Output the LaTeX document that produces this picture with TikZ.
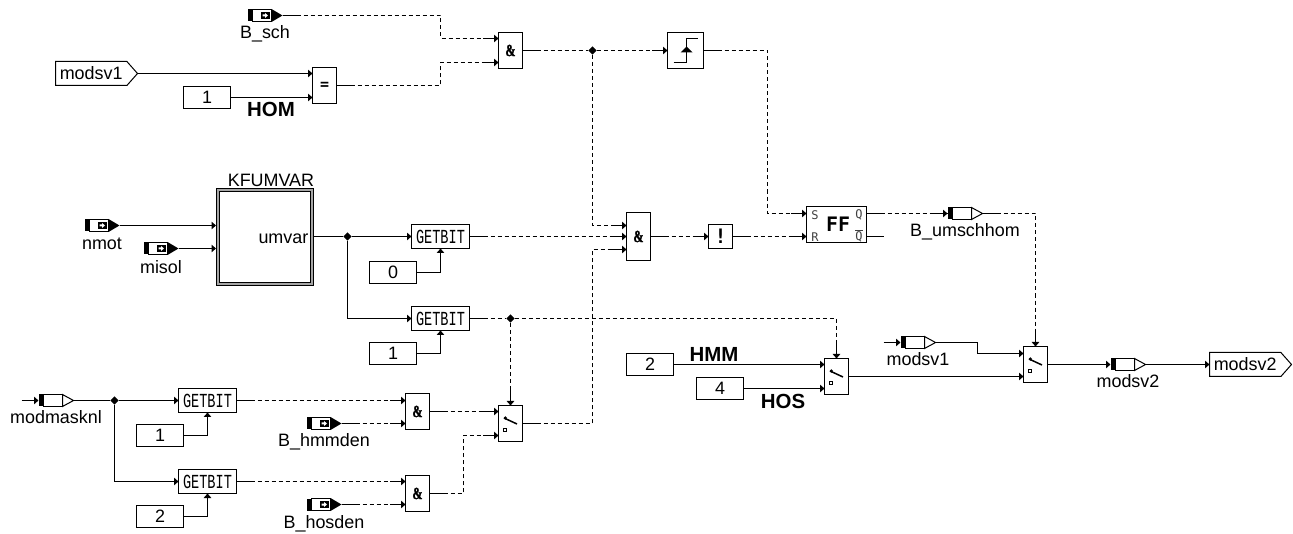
\documentclass[tikz,border=0pt]{standalone}
\usepackage{fontspec}
\setmainfont{Liberation Sans}
\newfontfamily\getbitfont[FakeStretch=0.68]{Liberation Mono}
\newfontfamily\pinfont{DejaVu Sans Mono}
\newfontfamily\ampfont[FakeStretch=0.72,FakeBold=1.5]{Liberation Serif}
\usetikzlibrary{arrows.meta,shapes.geometric,shapes.symbols}
\newcommand{\bitstart}[1]{\draw[line width=1bp] (#1) -- ++(15,0);}
\newcommand{\bitend}[1]{\draw[line width=1bp] (#1) -- ++(-16,0);}
\newcommand{\bitdown}[1]{\draw[line width=1bp] (#1) -- ++(0,-16);}
\tikzset{
  head/.tip={Triangle[length=4.5bp,width=7.5bp]},
  wire/.style={line width=1bp,-{head[]}},
  bitjoin/.style={line width=1bp,dash pattern=on 4bp off 3bp},
  bitwire/.style={bitjoin,-{head[]}},
  plain/.style={font=\fontsize{18}{20}\selectfont,inner sep=0pt},
  measlabel/.style={plain,node distance=18pt},
  boldlabel/.style={font=\fontsize{20.5}{22}\selectfont\bfseries,inner sep=0pt},
  block/.style={draw,line width=1bp,fill=white,inner sep=0pt,outer sep=0pt,minimum width=24bp,minimum height=36bp},
  andblock/.style={block,font=\fontsize{17}{18}\selectfont\ampfont\bfseries},
  switchblock/.style={block,path picture={
    \draw[line width=1.5bp] ([shift={(-6.5,-5.5)}]path picture bounding box.center) -- ([shift={(6.5,0.5)}]path picture bounding box.center);
    \fill[black] ([shift={(-5.2,-5.5)}]path picture bounding box.center) circle (1.8bp);
    \draw[line width=.8bp] ([shift={(-7,4.5)}]path picture bounding box.center) rectangle ([shift={(-4,7.5)}]path picture bounding box.center);}},
  edgeblock/.style={block,minimum width=36bp,path picture={
    \draw[line width=1.5bp] ([shift={(-12,12)}]path picture bounding box.center) -- ([shift={(1,12)}]path picture bounding box.center) -- ([shift={(1,-12)}]path picture bounding box.center) -- ([shift={(12,-12)}]path picture bounding box.center);
    \fill[black] ([shift={(-5,2)}]path picture bounding box.center) -- ([shift={(1,-4)}]path picture bounding box.center) -- ([shift={(7,2)}]path picture bounding box.center) -- cycle;}},
  getbit/.style={block,minimum width=58bp,minimum height=24bp,font=\fontsize{20}{22}\selectfont\getbitfont},
  const/.style={draw,line width=1bp,fill=white,plain,outer sep=0pt,minimum width=47bp,minimum height=22bp},
  sigport/.style={signal,signal to=east,draw,line width=1bp,fill=white,plain,outer sep=0pt,minimum height=24bp,minimum width=82bp,signal pointer angle=97,anchor=west},
  junct/.style={diamond,fill=black,inner sep=0pt,minimum size=8.5bp},
  pin/.style={font=\fontsize{12}{13}\selectfont\pinfont,inner sep=0pt,text=black!75},
  inmeas/.pic={
    \fill (0,-6) rectangle (5,6);
    \draw[line width=1bp,fill=white] (5,-6) rectangle (24,6);
    \fill (24,-6.5) -- (35,0) -- (24,6.5) -- cycle;
    \fill (13,-3.5) rectangle (22,3.5);
    \fill[white] (15,-1) -- (17.5,-1) -- (17.5,-2.5) -- (20.5,0) -- (17.5,2.5) -- (17.5,1) -- (15,1) -- cycle;
    \coordinate (-in) at (0,0);
    \coordinate (-mid) at (17.5,0);
    \coordinate (-tip) at (35,0);
  },
  outmeas/.pic={
    \fill (0,-6) rectangle (5,6);
    \draw[line width=1bp,fill=white] (5,-6) rectangle (24,6);
    \draw[line width=1bp,fill=white] (24,-6) -- (35,0) -- (24,6) -- cycle;
    \coordinate (-in) at (0,0);
    \coordinate (-mid) at (17.5,0);
    \coordinate (-tip) at (35,0);
  }
}
\begin{document}
\begin{tikzpicture}[x=1bp,y=-1bp]
  \useasboundingbox (0,0) rectangle (1293,534);

  % Homogeneous request
  \pic (bsch) at (247.5,15.5) {inmeas};
  \node (bschname) [measlabel,below of=bsch-mid] {B\_sch};
  \node (modsvin) [sigport] at (55.5,73.5) {modsv1};
  \node (homval) [const] at (207,97.5) {1};
  \node (homname) [boldlabel] at (271,109) {HOM};
  \node (eqblock) [block,font=\fontsize{15}{16}\selectfont\pinfont\bfseries] at (324.5,85.5) {=};
  \node (andtop) [andblock] at (510.5,50.5) {\&};
  \node (edge) [edgeblock] at (685.5,50.5) {};
  \node (jtop) [junct] at (592.5,50.5) {};
  \coordinate (bendb) at (440.5,38.5);
  \coordinate (bende) at (440.5,62.5);

  \draw[bitwire] (bsch-tip) -| (bendb) -- (bendb -| andtop.west);
  \bitstart{bsch-tip} \bitend{bendb -| andtop.west}
  \draw[bitwire] (eqblock.east) -| (bende) -- (bende -| andtop.west);
  \bitstart{eqblock.east} \bitend{bende -| andtop.west}
  \draw[wire] (modsvin.east) -- (modsvin.east -| eqblock.west);
  \draw[wire] (homval.east) -- (homval.east -| eqblock.west);
  \draw[bitjoin] (andtop.east) -- (jtop);
  \bitstart{andtop.east}
  \draw[bitwire] (jtop) -- (edge.west);
  \bitend{edge.west}

  % Characteristic map
  \pic (nmot) at (84.5,225.5) {inmeas};
  \node (nmotname) [measlabel,below of=nmot-mid] {nmot};
  \pic (misol) at (143.5,248.5) {inmeas};
  \node (misolname) [measlabel,below of=misol-mid,node distance=19pt] {misol};
  \node (kfumvar) [draw,line width=1bp,double=black!35,double distance=2bp,fill=white,inner sep=0pt,outer sep=2bp,minimum size=94bp] at (265,237) {};
  \node (kfname) [plain,above of=kfumvar,node distance=57pt,xshift=6pt] {KFUMVAR};
  \node (umvar) [plain,anchor=east] at ([xshift=-5.5pt,yshift=-2pt]kfumvar.east) {umvar};
  \node (jmap) [junct] at (347.5,236.5) {};
  \node (getbita) [getbit] at (440.5,236.5) {GETBIT};
  \node (bita) [const] at (393,272.5) {0};
  \node (getbitb) [getbit] at (440.5,318.5) {GETBIT};
  \node (bitb) [const] at (393,353.5) {1};
  \node (jbit) [junct] at (510.5,318.5) {};

  \draw[wire] (nmot-tip) -- (nmot-tip -| kfumvar.west);
  \draw[wire] (misol-tip) -- (misol-tip -| kfumvar.west);
  \draw[line width=1bp] (kfumvar.east |- jmap) -- (jmap);
  \draw[wire] (jmap) -- (jmap -| getbita.west);
  \draw[wire] (jmap) |- (getbitb.west);
  \draw[wire] (bita.east) -| (getbita.south);
  \draw[wire] (bitb.east) -| (getbitb.south);

  % Mask selection
  \coordinate (stubmask) at (21.5,400.5);
  \pic (mask) at (38.5,400.5) {outmeas};
  \node (maskname) [measlabel,below of=mask-mid,node distance=17pt] {modmasknl};
  \node (jmask) [junct] at (114.5,400.5) {};
  \node (getbitc) [getbit] at (207.5,400.5) {GETBIT};
  \node (bitc) [const] at (160,435.5) {1};
  \node (getbitd) [getbit] at (207.5,481.5) {GETBIT};
  \node (bitd) [const] at (160,516.5) {2};
  \pic (hmm) at (306.5,423.5) {inmeas};
  \node (hmmname) [measlabel,below of=hmm-mid] {B\_hmmden};
  \pic (hos) at (306.5,504.5) {inmeas};
  \node (hosname) [measlabel,below of=hos-mid,node distance=19pt] {B\_hosden};
  \node (andc) [andblock] at (417.5,411.5) {\&};
  \node (andd) [andblock] at (417.5,493.5) {\&};
  \node (swmask) [switchblock] at (510.5,423.5) {};
  \coordinate (bendd) at (463.5,435.5);
  \coordinate (bendm) at (592.5,249.5);
  \coordinate (bendt) at (592.5,225.5);

  \draw[wire] (stubmask) -- (mask-in);
  \draw[line width=1bp] (mask-tip) -- (jmask);
  \draw[wire] (jmask) -- (getbitc.west);
  \draw[wire] (jmask) |- (getbitd.west);
  \draw[wire] (bitc.east) -| (getbitc.south);
  \draw[wire] (bitd.east) -| (getbitd.south);
  \draw[bitwire] (getbitc.east) -- (getbitc.east -| andc.west);
  \bitstart{getbitc.east} \bitend{getbitc.east -| andc.west}
  \draw[bitwire] (getbitd.east) -- (getbitd.east -| andd.west);
  \bitstart{getbitd.east} \bitend{getbitd.east -| andd.west}
  \draw[bitwire] (hmm-tip) -- (hmm-tip -| andc.west);
  \bitstart{hmm-tip} \bitend{hmm-tip -| andc.west}
  \draw[bitwire] (hos-tip) -- (hos-tip -| andd.west);
  \bitstart{hos-tip} \bitend{hos-tip -| andd.west}
  \draw[bitwire] (andc.east) -- (andc.east -| swmask.west);
  \bitstart{andc.east} \bitend{andc.east -| swmask.west}
  \draw[bitwire] (andd.east) -| (bendd) -- (bendd -| swmask.west);
  \bitstart{andd.east} \bitend{bendd -| swmask.west}
  \draw[bitjoin] (getbitb.east) -- (jbit);
  \bitstart{getbitb.east}
  \draw[bitwire] (jbit) -- (swmask.north);
  \bitdown{swmask.north}

  % Latch
  \node (andmid) [andblock,minimum height=48bp] at (638.5,236.5) {\&};
  \node (notblock) [block,minimum height=24bp,font=\fontsize{20}{22}\selectfont\pinfont\bfseries] at (720.5,236.5) {!};
  \node (ff) [block,minimum width=60bp,minimum height=36bp,font=\fontsize{20}{22}\selectfont\pinfont\bfseries] at (836.5,224.5) {\hspace{3pt}FF};
  \node (ffs) [pin] at (815,215) {S};
  \node (ffr) [pin] at (815,237) {R};
  \node (ffq) [pin] at (859,214.5) {Q};
  \node (ffqn) [pin] at (859,236) {$\overline{\hbox{Q}}$};
  \coordinate (bendf) at (767.5,213.5);
  \coordinate (ffend) at (883.5,236.5);
  \pic (umsch) at (947.5,213.5) {outmeas};
  \node (umschname) [measlabel,below of=umsch-mid] {B\_umschhom};

  \draw[bitwire] (jtop) |- (bendt) -- (bendt -| andmid.west);
  \bitend{bendt -| andmid.west}
  \draw[bitwire] (getbita.east) -- (getbita.east -| andmid.west);
  \bitstart{getbita.east} \bitend{getbita.east -| andmid.west}
  \draw[bitwire] (swmask.east) -| (bendm) -- (bendm -| andmid.west);
  \bitstart{swmask.east} \bitend{bendm -| andmid.west}
  \draw[bitwire] (andmid.east) -- (notblock.west);
  \bitstart{andmid.east} \bitend{notblock.west}
  \draw[bitwire] (notblock.east) -- (notblock.east -| ff.west);
  \bitstart{notblock.east} \bitend{notblock.east -| ff.west}
  \draw[bitwire] (edge.east) -| (bendf) -- (bendf -| ff.west);
  \bitstart{edge.east} \bitend{bendf -| ff.west}
  \draw[bitwire] (ff.east |- umsch-in) -- (umsch-in);
  \bitstart{ff.east |- umsch-in} \bitend{umsch-in}
  \draw[line width=1bp] (ff.east |- ffend) -- (ffend);

  % Output switches
  \node (hmmval) [const] at (650,364.5) {2};
  \node (hmmtext) [boldlabel] at (714,354) {HMM};
  \node (hosval) [const] at (720,388.5) {4};
  \node (hostext) [boldlabel] at (783,401) {HOS};
  \node (swleft) [switchblock] at (836.5,376.5) {};
  \node (swright) [switchblock] at (1035.5,364.5) {};
  \coordinate (stubsv) at (883.5,342.5);
  \coordinate (bendsv) at (977.5,353.5);
  \pic (svin) at (900.5,342.5) {outmeas};
  \node (svinname) [measlabel,below of=svin-mid,node distance=17pt] {modsv1};
  \pic (svout) at (1110.5,364.5) {outmeas};
  \node (svoutname) [measlabel,below of=svout-mid,node distance=17pt] {modsv2};
  \node (modsvout) [sigport] at (1209.5,364.5) {modsv2};

  \draw[bitwire] (jbit) -| (swleft.north);
  \bitdown{swleft.north}
  \draw[wire] (hmmval.east) -- (hmmval.east -| swleft.west);
  \draw[wire] (hosval.east) -- (hosval.east -| swleft.west);
  \draw[wire] (swleft.east) -- (swleft.east -| swright.west);
  \draw[wire] (stubsv) -- (svin-in);
  \draw[wire] (svin-tip) -| (bendsv) -- (bendsv -| swright.west);
  \draw[bitwire] (umsch-tip) -| (swright.north);
  \bitstart{umsch-tip} \bitdown{swright.north}
  \draw[wire] (swright.east) -- (svout-in);
  \draw[wire] (svout-tip) -- (modsvout.west);
\end{tikzpicture}
\end{document}
